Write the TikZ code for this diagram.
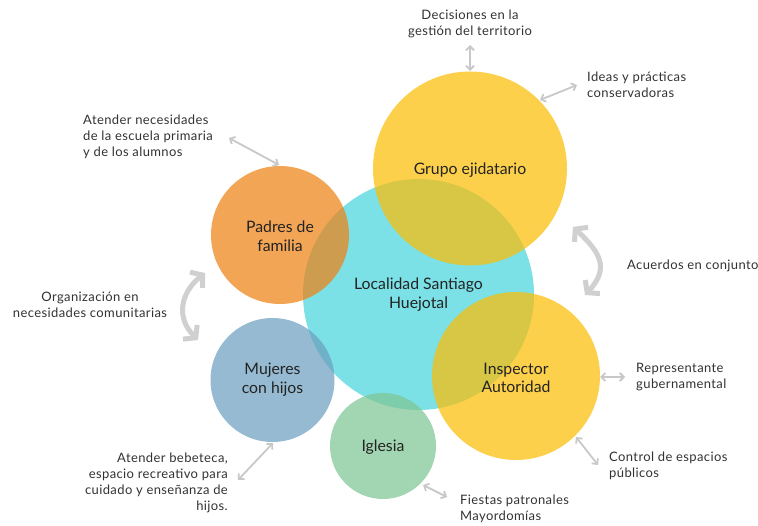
\documentclass[tikz,border=0pt]{standalone}
\usepackage{fontspec}
\setmainfont{Lato}
\usetikzlibrary{arrows.meta}
\definecolor{cyanc}{RGB}{123,225,230}
\definecolor{orangec}{RGB}{237,130,20}
\definecolor{yellowc}{RGB}{251,190,6}
\definecolor{bluec}{RGB}{108,159,192}
\definecolor{greenc}{RGB}{126,197,147}
\definecolor{arrowc}{RGB}{200,200,200}
\definecolor{bigarrowc}{RGB}{208,208,208}
\definecolor{txtc}{RGB}{50,50,50}
\definecolor{ctxtc}{RGB}{35,35,35}
\begin{document}
\begin{tikzpicture}[x=1pt,y=-1pt,
  bubble/.style={circle,inner sep=0pt,fill opacity=0.72,text opacity=1,text=ctxtc,
    font=\fontsize{15.8}{18.8}\selectfont,align=center},
  lbl/.style={inner sep=0pt,text=txtc,font=\fontsize{13}{16}\selectfont\addfontfeatures{LetterSpace=3}},
  thinarrow/.style={draw=arrowc,line width=1.8pt,
    {Straight Barb[length=4pt,width=8pt]}-{Straight Barb[length=4pt,width=8pt]}},
  bigarrow/.style={draw=bigarrowc,line width=5pt,
    {Straight Barb[length=8pt,width=20pt]}-{Straight Barb[length=8pt,width=20pt]}}]
\useasboundingbox (0,0) rectangle (758,526);
% circles
\node[circle,inner sep=0pt,minimum size=231pt,fill=cyanc] (loc) at (418.5,294.5) {};
\node[bubble,minimum size=194pt,fill=yellowc] (gru) at (470,168.5) {};
\node[bubble,minimum size=138pt,fill=orangec] (pad) at (280,235) {};
\node[bubble,minimum size=124pt,fill=bluec] (muj) at (272.5,380) {};
\node[bubble,minimum size=106pt,fill=greenc] (igl) at (383,446) {};
\node[bubble,minimum size=168pt,fill=yellowc] (ins) at (516,376) {};
% circle labels
\node[bubble,fill opacity=0] at (470,170) {Grupo ejidatario};
\node[bubble,fill opacity=0] at (280,236.5) {Padres de\\familia};
\node[bubble,fill opacity=0] at (418.5,294.5) {Localidad Santiago\\Huejotal};
\node[bubble,fill opacity=0] at (272.5,380) {Mujeres\\con hijos};
\node[bubble,fill opacity=0] at (383,447) {Iglesia};
\node[bubble,fill opacity=0] at (516,378) {Inspector\\Autoridad};
% outer labels
\node[lbl,align=center] (dec) at (470,23.5) {Decisiones en la\\gestión del territorio};
\node[lbl,align=left,anchor=west] (ide) at (587,85) {Ideas y prácticas\\conservadoras};
\node[lbl,align=left,anchor=west] (ate) at (83,137) {Atender necesidades\\de la escuela primaria\\y de los alumnos};
\node[lbl,anchor=west] (acu) at (627,266) {Acuerdos en conjunto};
\node[lbl,align=center] (org) at (90,305) {Organización en\\necesidades comunitarias};
\node[lbl,align=left,anchor=west] (rep) at (636,377) {Representante\\gubernamental};
\node[lbl,align=left,anchor=west] (con) at (609,466) {Control de espacios\\públicos};
\node[lbl,align=right,anchor=east] (beb) at (228,483) {Atender bebeteca,\\espacio recreativo para\\cuidado y enseñanza de\\hijos.};
\node[lbl,align=left,anchor=west] (fie) at (460,509) {Fiestas patronales\\Mayordomías};
% connector end points
\coordinate (a1) at (470,45); \coordinate (a2) at (470,71);
\coordinate (b1) at (540,100); \coordinate (b2) at (577,85);
\coordinate (c1) at (229,138); \coordinate (c2) at (279,165);
\coordinate (d1) at (600,377); \coordinate (d2) at (625,377);
\coordinate (e1) at (576,437); \coordinate (e2) at (598,465);
\coordinate (f1) at (273,443); \coordinate (f2) at (238,480);
\coordinate (g1) at (423,485); \coordinate (g2) at (447,497);
\coordinate (h1) at (573,227); \coordinate (h2) at (585,295);
\coordinate (k1) at (205,273); \coordinate (k2) at (198,340);
\draw[thinarrow] (a1) -- (a2);
\draw[thinarrow] (b1) -- (b2);
\draw[thinarrow] (c1) -- (c2);
\draw[thinarrow] (d1) -- (d2);
\draw[thinarrow] (e1) -- (e2);
\draw[thinarrow] (f1) -- (f2);
\draw[thinarrow] (g1) -- (g2);
\draw[bigarrow] (h1) .. controls (600,252) and (610,268) .. (h2);
\draw[bigarrow] (k1) .. controls (180,293) and (176,318) .. (k2);
\end{tikzpicture}
\end{document}
